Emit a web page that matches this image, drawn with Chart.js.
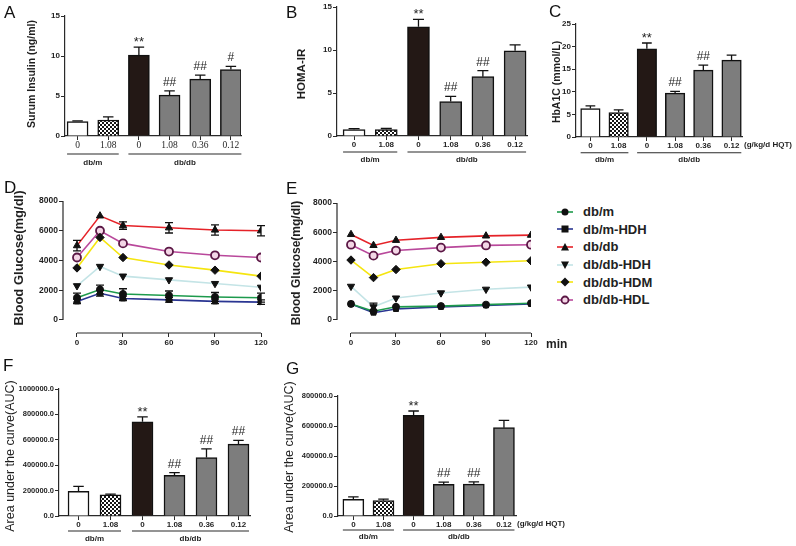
<!DOCTYPE html>
<html lang="en">
<head>
<meta charset="UTF-8">
<title>HQT: insulin, HOMA-IR, HbA1C, OGTT / ITT</title>
<script src="https://cdn.jsdelivr.net/npm/chart.js"></script>
<style>
  body { margin: 0; background: #fff; }
  #stage { position: relative; width: 796px; height: 546px; overflow: hidden; }
  #stage canvas { position: absolute; left: 0; top: 0; }
  #legend { position: absolute; left: 557px; top: 203px; font: bold 13px "Liberation Sans", Arial, sans-serif; color: #222; }
  #legend div { height: 17.6px; display: flex; align-items: center; }
  #legend svg { margin-right: 9px; }
</style>
</head>
<body>
<div id="stage">
  <div id="legend"></div>
</div>

<script>
// ---- data ----
const doseLabels = ['0', '1.08', '0', '1.08', '0.36', '0.12'];

const insulin      = [1.8, 2.0, 10.1, 5.1, 7.1, 8.3];
const insulinErr   = [0.1, 0.4, 1.0, 0.55, 0.5, 0.4];
const insulinMarks = ['', '', '**', '##', '##', '#'];

const homaIR    = [0.75, 0.75, 12.7, 4.0, 6.9, 9.9];
const homaErr   = [0.1, 0.12, 0.85, 0.6, 0.7, 0.7];
const homaMarks = ['', '', '**', '##', '##', ''];

const hba1c      = [6.3, 5.4, 19.5, 9.7, 14.8, 17.0];
const hba1cErr   = [0.6, 0.6, 1.3, 0.4, 1.1, 1.1];
const hba1cMarks = ['', '', '**', '##', '##', ''];

const aucOgtt      = [195000, 166000, 742000, 321000, 460000, 566000];
const aucOgttErr   = [38000, 6000, 38000, 20000, 68000, 30000];
const aucOgttMarks = ['', '', '**', '##', '##', '##'];

const aucItt      = [111000, 102000, 671000, 211000, 213000, 589000];
const aucIttErr   = [16000, 11000, 29000, 15000, 14000, 49000];
const aucIttMarks = ['', '', '**', '##', '##', ''];

const minutes    = [0, 15, 30, 60, 90, 120];
const groupNames = ['db/m', 'db/m-HDH', 'db/db', 'db/db-HDH', 'db/db-HDM', 'db/db-HDL'];

// panel D (glucose tolerance)
const ogttDbm     = [1500, 2050, 1750, 1650, 1550, 1500];
const ogttDbmH    = [1250, 1800, 1450, 1350, 1250, 1200];
const ogttDbdb    = [5000, 7000, 6350, 6200, 6050, 6000];
const ogttDbdbH   = [2300, 3600, 2950, 2700, 2450, 2200];
const ogttDbdbM   = [3500, 5550, 4200, 3700, 3350, 2950];
const ogttDbdbL   = [4200, 6000, 5150, 4600, 4350, 4200];
const ogttErrDbm  = [300, 300, 350, 300, 300, 300];
const ogttErrDbmH = [150, 200, 150, 150, 150, 150];
const ogttErrDbdb = [350, 0, 250, 350, 350, 350];

// panel E (insulin tolerance)
const ittDbm    = [1100, 600, 900, 950, 1050, 1150];
const ittDbmH   = [1100, 500, 750, 900, 1000, 1100];
const ittDbdb   = [5850, 5100, 5450, 5650, 5750, 5800];
const ittDbdbH  = [2300, 900, 1500, 1850, 2100, 2250];
const ittDbdbM  = [4100, 2900, 3450, 3850, 3950, 4050];
const ittDbdbL  = [5150, 4400, 4750, 4950, 5100, 5150];
const ittErrDbdbH = [0, 250, 0, 0, 0, 0];

// ---- look ----
const W = 796, H = 546;
const SANS = '"Liberation Sans", Arial, sans-serif';
const SERIF = '"Liberation Serif", "Times New Roman", serif';
const AXIS = '#2a2a2a';
const TXT = '#1f1f1f';
Chart.defaults.font.family = SANS;

const lineColors  = ['#1d9a4c', '#2a3592', '#e52228', '#c4e4e6', '#f5e50f', '#b9489b'];
const pointStyles = ['circle', 'rect', 'triangle', 'triangle', 'rectRot', 'circle'];
const pointRot    = [0, 0, 0, 180, 0, 0];
const pointFill   = ['#111', '#111', '#111', '#111', '#111', '#f3d6e6'];
const pointEdge   = ['#111', '#111', '#111', '#111', '#111', '#5b1745'];
const pointSize   = [3.5, 3.5, 4.2, 4.2, 4.2, 4];
const pointEdgeW  = [1, 1, 1, 1, 1, 1.8];

function checker() {
  const c = document.createElement('canvas');
  c.width = 4; c.height = 4;
  const g = c.getContext('2d');
  g.fillStyle = '#fff'; g.fillRect(0, 0, 4, 4);
  g.fillStyle = '#151515'; g.fillRect(0, 0, 2, 2); g.fillRect(2, 2, 2, 2);
  return g.createPattern(c, 'repeat');
}
const barFills = ['#ffffff', checker(), '#231815', '#7d7d7d', '#7d7d7d', '#7d7d7d'];

// error bars + significance marks
const errorBars = {
  id: 'errorBars',
  afterDatasetsDraw(chart, _a, o) {
    if (!o.errors) return;
    const ctx = chart.ctx, y = chart.scales.y;
    ctx.save();
    ctx.strokeStyle = '#111';
    ctx.lineWidth = 1.3;
    chart.data.datasets.forEach((ds, k) => {
      const errs = o.errors[k];
      if (!errs) return;
      chart.getDatasetMeta(k).data.forEach((el, i) => {
        const v = ds.data[i].y, e = errs[i] || 0;
        const top = y.getPixelForValue(v + e);
        if (e) {
          const bot = y.getPixelForValue(o.both ? v - e : v);
          ctx.beginPath();
          ctx.moveTo(el.x, bot); ctx.lineTo(el.x, top);
          ctx.moveTo(el.x - o.cap / 2, top); ctx.lineTo(el.x + o.cap / 2, top);
          if (o.both) { ctx.moveTo(el.x - o.cap / 2, bot); ctx.lineTo(el.x + o.cap / 2, bot); }
          ctx.stroke();
        }
        const m = o.marks && o.marks[k] && o.marks[k][i];
        if (m) {
          const star = m[0] === '*';
          ctx.fillStyle = TXT;
          ctx.font = (star ? '13px ' : '12px ') + SANS;
          ctx.textAlign = 'center';
          ctx.textBaseline = 'alphabetic';
          ctx.fillText(m, el.x, top - (star ? 1 : 5));
        }
      });
    });
    ctx.restore();
  }
};

// panel letters, rotated titles, group brackets, axis lines, extra notes
const deco = {
  id: 'deco',
  afterDraw(chart, _a, o) {
    const ctx = chart.ctx, a = chart.chartArea;
    const xs = chart.scales.x, ys = chart.scales.y;
    ctx.save();
    ctx.fillStyle = TXT;
    ctx.strokeStyle = AXIS;
    if (o.letter) {
      ctx.font = '17px ' + SANS;
      ctx.fillStyle = '#111';
      ctx.textAlign = 'left'; ctx.textBaseline = 'top';
      ctx.fillText(o.letter[0], o.letter[1], o.letter[2]);
      ctx.fillStyle = TXT;
    }
    if (o.title) {
      ctx.save();
      ctx.translate(o.title.x, o.title.y);
      ctx.rotate(-Math.PI / 2);
      ctx.font = o.title.font;
      ctx.textAlign = 'center'; ctx.textBaseline = 'middle';
      ctx.fillText(o.title.text, 0, 0);
      ctx.restore();
    }
    if (o.axisLines) {
      ctx.lineWidth = 1.2;
      ctx.beginPath();
      ctx.moveTo(a.left, ys.getPixelForValue(o.axisLines.y[0]));
      ctx.lineTo(a.left, ys.getPixelForValue(o.axisLines.y[1]));
      ctx.moveTo(xs.getPixelForValue(o.axisLines.x[0]), a.bottom);
      ctx.lineTo(xs.getPixelForValue(o.axisLines.x[1]), a.bottom);
      ctx.stroke();
    }
    if (o.groups) {
      ctx.lineWidth = 1.1;
      ctx.font = 'bold 8px ' + SANS;
      ctx.textAlign = 'center'; ctx.textBaseline = 'middle';
      o.groups.forEach(g => {
        const x0 = xs.getPixelForValue(g.from) - o.barW / 2;
        const x1 = xs.getPixelForValue(g.to) + o.barW / 2;
        ctx.beginPath();
        ctx.moveTo(x0, o.groupLineY); ctx.lineTo(x1, o.groupLineY);
        ctx.stroke();
        ctx.fillText(g.label, (x0 + x1) / 2, o.groupLabelY);
      });
    }
    (o.notes || []).forEach(n => {
      ctx.font = n.font;
      ctx.textAlign = 'left'; ctx.textBaseline = 'middle';
      ctx.fillText(n.text, n.x, n.y);
    });
    ctx.restore();
  }
};

function stageCanvas() {
  const c = document.createElement('canvas');
  c.width = W; c.height = H;
  document.getElementById('stage').appendChild(c);
  return c;
}

const groups = [{ label: 'db/m', from: 0, to: 1 }, { label: 'db/db', from: 2, to: 5 }];

function barPanel(p) {
  const yW = 50, xH = 20;
  new Chart(stageCanvas(), {
    type: 'bar',
    data: {
      datasets: [{
        data: p.values.map((v, i) => ({ x: i, y: v })),
        backgroundColor: barFills,
        borderColor: '#111',
        borderWidth: 1.5,
        barThickness: p.barW
      }]
    },
    options: {
      responsive: false, animation: false, events: [],
      layout: { autoPadding: false, padding: { left: p.box.left - yW, top: p.box.top, right: W - p.box.right, bottom: H - p.box.bottom - xH } },
      plugins: {
        legend: { display: false }, tooltip: { enabled: false },
        errorBars: { errors: [p.errors], marks: [p.marks], cap: p.barW / 2 },
        deco: {
          letter: p.letter, title: p.title, groups, barW: p.barW,
          groupLineY: p.groupLineY, groupLabelY: p.groupLabelY, notes: p.notes
        }
      },
      scales: {
        x: {
          type: 'linear', min: p.xMin, max: p.xMax, offset: false,
          afterFit: s => { s.height = xH; },
          afterBuildTicks: s => { s.ticks = doseLabels.map((_, i) => ({ value: i })); },
          grid: { offset: false, drawOnChartArea: false, tickLength: 4, color: AXIS, lineWidth: 1 },
          border: { color: AXIS, width: 1.2 },
          ticks: { callback: v => doseLabels[v], padding: 0, maxRotation: 0, autoSkip: false, color: TXT, font: p.xFont || { size: 8, weight: 'bold' } }
        },
        y: {
          min: 0, max: p.yMax,
          afterFit: s => { s.width = yW; },
          grid: { drawOnChartArea: false, tickLength: 4, color: AXIS, lineWidth: 1 },
          border: { color: AXIS, width: 1.2 },
          ticks: { stepSize: p.yStep, padding: 1, color: TXT, font: { size: p.yTickSize || 8, weight: 'bold' }, callback: p.yFmt || (v => String(v)) }
        }
      }
    },
    plugins: [errorBars, deco]
  });
}

function linePanel(p) {
  const yW = 50, xH = 20;
  new Chart(stageCanvas(), {
    type: 'line',
    data: {
      datasets: groupNames.map((name, k) => ({
        label: name,
        data: minutes.map((m, i) => ({ x: m, y: p.series[k][i] })),
        borderColor: lineColors[k],
        borderWidth: 1.6,
        tension: 0,
        fill: false,
        pointStyle: pointStyles[k],
        rotation: pointRot[k],
        pointRadius: pointSize[k],
        pointBackgroundColor: pointFill[k],
        pointBorderColor: pointEdge[k],
        pointBorderWidth: pointEdgeW[k]
      }))
    },
    options: {
      responsive: false, animation: false, events: [],
      layout: { autoPadding: false, padding: { left: p.box.left - yW, top: p.box.top, right: W - p.box.right, bottom: H - p.box.bottom - xH } },
      plugins: {
        legend: { display: false }, tooltip: { enabled: false },
        errorBars: { errors: p.errors, cap: 8, both: true },
        deco: { letter: p.letter, title: p.title, axisLines: { x: [0, 120], y: [0, 8000] }, notes: p.notes }
      },
      scales: {
        x: {
          type: 'linear', min: p.xMin, max: 120,
          afterFit: s => { s.height = xH; },
          afterBuildTicks: s => { s.ticks = [0, 30, 60, 90, 120].map(v => ({ value: v })); },
          grid: { drawOnChartArea: false, tickLength: 4, color: AXIS, lineWidth: 1 },
          border: { display: false },
          ticks: { padding: 1, maxRotation: 0, color: TXT, font: { size: 8, weight: 'bold' }, callback: v => String(v) }
        },
        y: {
          min: p.yMin, max: 8000,
          afterFit: s => { s.width = yW; },
          afterBuildTicks: s => { s.ticks = [0, 2000, 4000, 6000, 8000].map(v => ({ value: v })); },
          grid: { drawOnChartArea: false, tickLength: 4, color: AXIS, lineWidth: 1 },
          border: { display: false },
          ticks: { padding: 1, color: TXT, font: { size: 8.5, weight: 'bold' }, callback: v => String(v) }
        }
      }
    },
    plugins: [errorBars, deco]
  });
}

const auc = v => v.toFixed(1);

// A
barPanel({
  values: insulin, errors: insulinErr, marks: insulinMarks,
  box: { left: 65, top: 16, right: 241, bottom: 136 }, xMin: -0.41, xMax: 5.33, barW: 21,
  yMax: 15, yStep: 5, xFont: { family: SERIF, size: 9.5 },
  letter: ['A', 4, 5], groupLineY: 154, groupLabelY: 163,
  title: { text: 'Surum Insulin (ng/ml)', x: 32, y: 74, font: 'bold 10.5px ' + SANS }
});
// B
barPanel({
  values: homaIR, errors: homaErr, marks: homaMarks,
  box: { left: 337, top: 7, right: 527, bottom: 136 }, xMin: -0.53, xMax: 5.37, barW: 22,
  yMax: 15, yStep: 5,
  letter: ['B', 286, 5], groupLineY: 152, groupLabelY: 159.5,
  title: { text: 'HOMA-IR', x: 302, y: 74, font: 'bold 11.5px ' + SANS }
});
// C
barPanel({
  values: hba1c, errors: hba1cErr, marks: hba1cMarks,
  box: { left: 576, top: 24, right: 742, bottom: 137 }, xMin: -0.51, xMax: 5.37, barW: 19.5,
  yMax: 25, yStep: 5,
  letter: ['C', 549, 4], groupLineY: 152.7, groupLabelY: 160,
  title: { text: 'HbA1C (mmol/L)', x: 557, y: 82, font: 'bold 10.5px ' + SANS },
  notes: [{ text: '(g/kg/d HQT)', x: 744, y: 145, font: 'bold 8px ' + SANS }]
});
// F
barPanel({
  values: aucOgtt, errors: aucOgttErr, marks: aucOgttMarks,
  box: { left: 59, top: 389, right: 250, bottom: 516 }, xMin: -0.61, xMax: 5.36, barW: 21,
  yMax: 1000000, yStep: 200000, yTickSize: 7.5, yFmt: auc,
  letter: ['F', 3, 358], groupLineY: 531, groupLabelY: 539,
  title: { text: 'Area under the curve(AUC)', x: 11, y: 456, font: '12.5px ' + SANS }
});
// G
barPanel({
  values: aucItt, errors: aucIttErr, marks: aucIttMarks,
  box: { left: 338, top: 396, right: 516, bottom: 516 }, xMin: -0.51, xMax: 5.4, barW: 21,
  yMax: 800000, yStep: 200000, yTickSize: 7.5, yFmt: auc,
  letter: ['G', 286, 361], groupLineY: 530, groupLabelY: 537,
  title: { text: 'Area under the curve(AUC)', x: 290, y: 457, font: '12.5px ' + SANS },
  notes: [{ text: '(g/kg/d HQT)', x: 517, y: 524, font: 'bold 8px ' + SANS }]
});
// D
linePanel({
  series: [ogttDbm, ogttDbmH, ogttDbdb, ogttDbdbH, ogttDbdbM, ogttDbdbL],
  errors: [ogttErrDbm, ogttErrDbmH, ogttErrDbdb],
  box: { left: 63, top: 201, right: 261, bottom: 333 }, xMin: -9.13, yMin: -874,
  letter: ['D', 4, 180],
  title: { text: 'Blood Glucose(mg/dl)', x: 19, y: 258, font: 'bold 13px ' + SANS }
});
// E
linePanel({
  series: [ittDbm, ittDbmH, ittDbdb, ittDbdbH, ittDbdbM, ittDbdbL],
  errors: [null, null, null, ittErrDbdbH],
  box: { left: 337, top: 203, right: 531, bottom: 333 }, xMin: -9.33, yMin: -889,
  letter: ['E', 286, 181],
  title: { text: 'Blood Glucose(mg/dl)', x: 297, y: 263, font: 'bold 12px ' + SANS },
  notes: [{ text: 'min', x: 546, y: 345, font: 'bold 12px ' + SANS }]
});

// legend for D/E
const markerSvg = k => {
  const f = pointFill[k], e = pointEdge[k];
  const shapes = [
    `<circle cx="8" cy="6" r="3.5" fill="${f}"/>`,
    `<rect x="4.5" y="2.5" width="7" height="7" fill="${f}"/>`,
    `<polygon points="8,2 12,9.5 4,9.5" fill="${f}"/>`,
    `<polygon points="4,2.5 12,2.5 8,10" fill="${f}"/>`,
    `<polygon points="8,1.5 12.5,6 8,10.5 3.5,6" fill="${f}"/>`,
    `<circle cx="8" cy="6" r="3.5" fill="${f}" stroke="${e}" stroke-width="1.8"/>`
  ];
  return `<svg width="17" height="12"><line x1="0" y1="6" x2="16" y2="6" stroke="${lineColors[k]}" stroke-width="1.6"/>${shapes[k]}</svg>`;
};
document.getElementById('legend').innerHTML =
  groupNames.map((n, k) => `<div>${markerSvg(k)}<span>${n}</span></div>`).join('');
</script>
</body>
</html>
